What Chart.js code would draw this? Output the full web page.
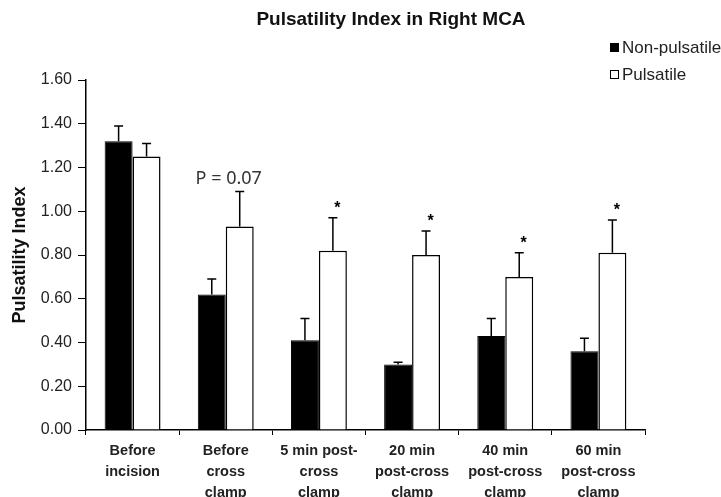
<!DOCTYPE html>
<html>
<head>
<meta charset="utf-8">
<script src="https://cdn.jsdelivr.net/npm/chart.js@4/dist/chart.umd.min.js"></script>
<style>
  html, body { margin: 0; padding: 0; background: #fff; }
  #wrap { width: 721px; height: 497px; }
</style>
</head>
<body>
<div id="wrap"><canvas id="chart" width="721" height="497"></canvas></div>
<script>
const categories = [
  ['Before', 'incision'],
  ['Before', 'cross', 'clamp'],
  ['5 min post-', 'cross', 'clamp'],
  ['20 min', 'post-cross', 'clamp'],
  ['40 min', 'post-cross', 'clamp'],
  ['60 min', 'post-cross', 'clamp']
];
const nonPulsatile = [1.32, 0.62, 0.41, 0.30, 0.43, 0.36];
const nonPulsatileErr = [0.07, 0.07, 0.10, 0.01, 0.08, 0.06];
const pulsatile = [1.25, 0.93, 0.82, 0.80, 0.70, 0.81];
const pulsatileErr = [0.06, 0.16, 0.15, 0.11, 0.11, 0.15];
const starred = [false, false, true, true, true, true];
const pNote = { index: 1, text: 'P = 0.07' };

const FONT = 'Arial, "Liberation Sans", sans-serif';

// upper error whiskers, significance stars, p-value note, title and legend
const extras = {
  id: 'extras',
  afterDatasetsDraw(chart) {
    const ctx = chart.ctx;
    const y = chart.scales.y;
    const errs = [nonPulsatileErr, pulsatileErr];
    ctx.save();
    chart.data.datasets.forEach((ds, di) => {
      const meta = chart.getDatasetMeta(di);
      meta.data.forEach((bar, i) => {
        const top = y.getPixelForValue(ds.data[i] + errs[di][i]);
        ctx.strokeStyle = '#000';
        ctx.lineWidth = 1.5;
        ctx.beginPath();
        ctx.moveTo(bar.x, bar.y);
        ctx.lineTo(bar.x, top);
        ctx.moveTo(bar.x - 4.5, top);
        ctx.lineTo(bar.x + 4.5, top);
        ctx.stroke();
        if (di === 1 && starred[i]) {
          ctx.fillStyle = '#000';
          ctx.font = 'bold 16px ' + FONT;
          ctx.textAlign = 'center';
          ctx.textBaseline = 'middle';
          ctx.fillText('*', bar.x + 4.5, top - 9);
        }
      });
    });
    const x = chart.scales.x;
    ctx.fillStyle = '#333';
    ctx.font = '18px "Noto Sans", sans-serif';
    ctx.textAlign = 'center';
    ctx.textBaseline = 'middle';
    ctx.fillText(pNote.text, x.getPixelForValue(pNote.index) + 3, 179);

    // title
    ctx.fillStyle = '#111';
    ctx.font = 'bold 19px ' + FONT;
    ctx.fillText('Pulsatility Index in Right MCA', 391, 20);

    // legend
    ctx.textAlign = 'left';
    ctx.font = '17px ' + FONT;
    ctx.fillStyle = '#000';
    ctx.fillRect(610, 43, 9, 9);
    ctx.fillStyle = '#222';
    ctx.fillText('Non-pulsatile', 622, 48);
    ctx.strokeStyle = '#000';
    ctx.lineWidth = 1;
    ctx.strokeRect(610.5, 70.5, 8, 8);
    ctx.fillText('Pulsatile', 622, 75);
    ctx.restore();
  }
};

new Chart(document.getElementById('chart'), {
  type: 'bar',
  data: {
    labels: categories,
    datasets: [
      {
        label: 'Non-pulsatile',
        data: nonPulsatile,
        backgroundColor: '#000',
        borderColor: '#000',
        borderWidth: 1
      },
      {
        label: 'Pulsatile',
        data: pulsatile,
        backgroundColor: '#fff',
        borderColor: '#000',
        borderWidth: 1.5
      }
    ]
  },
  options: {
    responsive: false,
    animation: false,
    layout: { padding: { left: 0, right: 76, top: 80, bottom: 0 } },
    categoryPercentage: 0.6,
    barPercentage: 1.0,
    plugins: {
      legend: { display: false },
      tooltip: { enabled: false }
    },
    scales: {
      x: {
        afterFit: s => { s.height = 67; },
        grid: { display: true, drawOnChartArea: false, tickLength: 5, color: '#000', offset: true },
        border: { display: true, color: '#000', width: 1.5 },
        ticks: {
          color: '#222',
          font: { family: FONT, size: 14.5, weight: 'bold', lineHeight: 1.45 },
          padding: 5,
          maxRotation: 0,
          autoSkip: false
        }
      },
      y: {
        min: 0,
        max: 1.6,
        afterFit: s => { s.width = 86; },
        grid: { display: true, drawOnChartArea: false, tickLength: 8, color: '#000' },
        border: { display: true, color: '#000', width: 1.5 },
        ticks: {
          stepSize: 0.2,
          color: '#222',
          font: { family: FONT, size: 16 },
          padding: 6,
          callback: v => Number(v).toFixed(2)
        },
        title: {
          display: true,
          text: 'Pulsatility Index',
          color: '#111',
          font: { family: FONT, size: 18, weight: 'bold' },
          padding: { top: 9, bottom: 0 }
        }
      }
    }
  },
  plugins: [extras]
});
</script>
</body>
</html>
